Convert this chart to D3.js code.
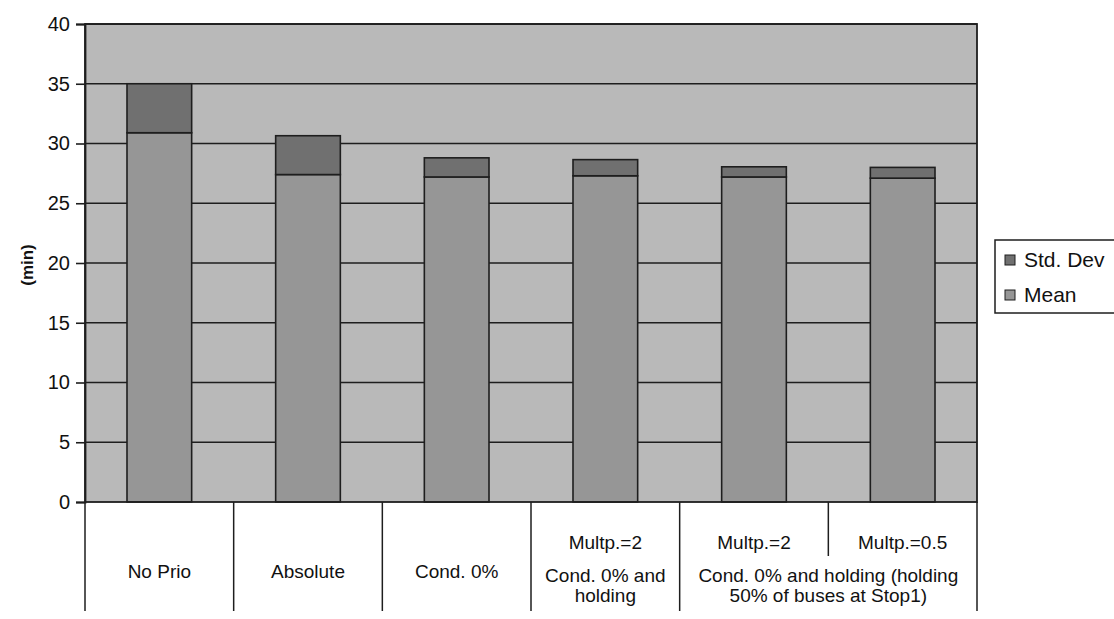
<!DOCTYPE html>
<html>
<head>
<meta charset="utf-8">
<script src="https://cdn.jsdelivr.net/npm/d3@7"></script>
<style>
  body { margin: 0; background: #ffffff; }
  svg { display: block; font-family: "Liberation Sans", Arial, sans-serif; }
</style>
</head>
<body>
<svg id="chart" width="1114" height="619"></svg>
<script>
// ---- data ----
const categories = ["No Prio", "Absolute", "Cond. 0%", "Multp.=2 (a)", "Multp.=2 (b)", "Multp.=0.5"];
const meanValues = [30.9, 27.4, 27.2, 27.3, 27.2, 27.1];
const stdDevValues = [4.1, 3.25, 1.6, 1.35, 0.85, 0.9];
const seriesNames = ["Std. Dev", "Mean"];
const yTicks = [0, 5, 10, 15, 20, 25, 30, 35, 40];
// single-level labels (categories 0..2) and upper-level labels (3..5)
const singleLabels = ["No Prio", "Absolute", "Cond. 0%"];
const upperLabels = ["Multp.=2", "Multp.=2", "Multp.=0.5"];
// lower-level group labels: [first category index, last category index, lines]
const groupFirst = [3, 4];
const groupLast = [3, 5];
const groupLines = [["Cond. 0% and", "holding"], ["Cond. 0% and holding (holding", "50% of buses at Stop1)"]];

// ---- layout ----
const svg = d3.select("#chart");
const L = 85, R = 977, T = 24, B = 502;
const colBg = "#b9b9b9", colMean = "#969696", colSd = "#707070", colLine = "#1e1e1e";

const x = d3.scaleBand().domain(categories).range([L, R]).paddingInner(0.565).paddingOuter(0.2825);
const y = d3.scaleLinear().domain([0, 40]).range([B, T]);

// plot background
svg.append("rect").attr("x", L).attr("y", T).attr("width", R - L).attr("height", B - T)
  .attr("fill", colBg);

// gridlines
svg.append("g").selectAll("line").data(yTicks.filter(d => d > 0)).join("line")
  .attr("x1", L).attr("x2", R).attr("y1", d => y(d)).attr("y2", d => y(d))
  .attr("stroke", colLine).attr("stroke-width", 1.6);

// bars (stacked: mean bottom, std dev on top)
const data = categories.map((c, i) => ({ c, mean: meanValues[i], sd: stdDevValues[i] }));
const bars = svg.append("g");
bars.selectAll("rect.mean").data(data).join("rect").attr("class", "mean")
  .attr("x", d => x(d.c)).attr("width", x.bandwidth())
  .attr("y", d => y(d.mean)).attr("height", d => y(0) - y(d.mean))
  .attr("fill", colMean).attr("stroke", colLine).attr("stroke-width", 1.6);
bars.selectAll("rect.sd").data(data).join("rect").attr("class", "sd")
  .attr("x", d => x(d.c)).attr("width", x.bandwidth())
  .attr("y", d => y(d.mean + d.sd)).attr("height", d => y(d.mean) - y(d.mean + d.sd))
  .attr("fill", colSd).attr("stroke", colLine).attr("stroke-width", 1.6);

// plot frame
svg.append("rect").attr("x", L).attr("y", T).attr("width", R - L).attr("height", B - T)
  .attr("fill", "none").attr("stroke", colLine).attr("stroke-width", 1.8);

// y axis
const yAxis = d3.axisLeft(y).tickValues(yTicks).tickSize(9).tickPadding(6);
const gy = svg.append("g").attr("transform", `translate(${L},0)`).call(yAxis);
gy.select(".domain").attr("stroke", colLine).attr("stroke-width", 1.8);
gy.selectAll(".tick line").attr("stroke", colLine).attr("stroke-width", 1.6);
gy.selectAll(".tick text").attr("font-size", 20).attr("fill", "#111")
  .attr("font-family", "'Liberation Sans', Arial, sans-serif");

// y title
svg.append("text").attr("transform", "translate(33,265) rotate(-90)")
  .attr("text-anchor", "middle").attr("font-size", 17).attr("font-weight", "bold")
  .attr("fill", "#111").text("(min)");

// category axis table
const step = x.step();
const edge = i => L + i * step;
const axisG = svg.append("g");
const fullDiv = [0, 1, 2, 3, 4, 6];
axisG.selectAll("line.full").data(fullDiv).join("line").attr("class", "full")
  .attr("x1", d => edge(d)).attr("x2", d => edge(d)).attr("y1", B).attr("y2", 611)
  .attr("stroke", colLine).attr("stroke-width", 1.5);
axisG.append("line").attr("x1", edge(5)).attr("x2", edge(5)).attr("y1", B).attr("y2", 556)
  .attr("stroke", colLine).attr("stroke-width", 1.5);

const catFont = 19;
axisG.selectAll("text.single").data(singleLabels).join("text").attr("class", "single")
  .attr("x", (d, i) => x(categories[i]) + x.bandwidth() / 2).attr("y", 578)
  .attr("text-anchor", "middle").attr("font-size", catFont).attr("fill", "#111").text(d => d);
axisG.selectAll("text.upper").data(upperLabels).join("text").attr("class", "upper")
  .attr("x", (d, i) => x(categories[i + 3]) + x.bandwidth() / 2).attr("y", 549)
  .attr("text-anchor", "middle").attr("font-size", catFont).attr("fill", "#111").text(d => d);
groupLines.forEach((lines, g) => {
  const cx = (x(categories[groupFirst[g]]) + x(categories[groupLast[g]]) + x.bandwidth()) / 2;
  lines.forEach((t, k) => {
    axisG.append("text").attr("x", cx).attr("y", 582 + k * 20)
      .attr("text-anchor", "middle").attr("font-size", catFont).attr("fill", "#111").text(t);
  });
});

// legend
const lg = svg.append("g").attr("transform", "translate(995,240)");
lg.append("rect").attr("x", 0).attr("y", 0).attr("width", 160).attr("height", 73)
  .attr("fill", "#fff").attr("stroke", colLine).attr("stroke-width", 1.5);
const legendColors = [colSd, colMean];
seriesNames.forEach((name, i) => {
  const cy = 20 + i * 35;
  lg.append("rect").attr("x", 10).attr("y", cy - 5).attr("width", 10).attr("height", 10)
    .attr("fill", legendColors[i]).attr("stroke", colLine).attr("stroke-width", 1);
  lg.append("text").attr("x", 29).attr("y", cy + 7).attr("font-size", 21).attr("fill", "#111").text(name);
});
</script>
</body>
</html>
